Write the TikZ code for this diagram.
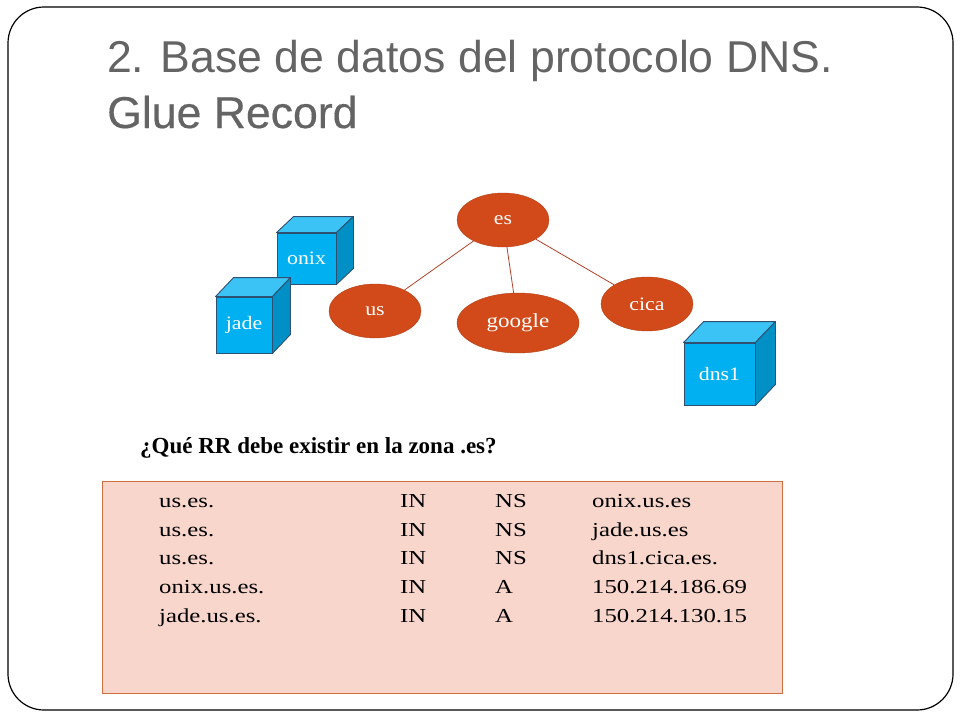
\documentclass[tikz,border=0pt]{standalone}
\usepackage{fontspec}
\setmainfont{Liberation Serif}
\newfontfamily\titlefont{Liberation Sans}
\newfontfamily\titlemed[FakeBold=0.4]{Liberation Sans}
\newfontfamily\widefont[FakeStretch=1.15]{Liberation Serif}
\newfontfamily\tabfont[FakeStretch=1.25]{Liberation Serif}
\usetikzlibrary{shapes.geometric}
\definecolor{titlegray}{HTML}{646464}
\definecolor{esorange}{HTML}{D24A19}
\definecolor{linkred}{HTML}{B0442A}
\definecolor{cubefrontc}{HTML}{00B0F0}
\definecolor{cubetopc}{HTML}{3CC3F5}
\definecolor{cubesidec}{HTML}{0090C6}
\definecolor{cubeedge}{HTML}{2F5070}
\definecolor{tablefill}{HTML}{F8D6CB}
\definecolor{tableedge}{HTML}{D07040}
\newcommand\mycube[3]{%
  \filldraw[fill=cubetopc,draw=cubeedge,line width=0.9pt,line join=round]
    (#1.north west) -- ++(#2,-#3) -- ([shift={(#2,-#3)}]#1.north east) -- (#1.north east) -- cycle;
  \filldraw[fill=cubesidec,draw=cubeedge,line width=0.9pt,line join=round]
    (#1.north east) -- ++(#2,-#3) -- ([shift={(#2,-#3)}]#1.south east) -- (#1.south east) -- cycle;
}
\begin{document}
\begin{tikzpicture}[x=1pt,y=-1pt,
  titletext/.style={anchor=base west,text=titlegray,inner sep=0},
  zone/.style={ellipse,fill=esorange,draw=esorange!85!black,line width=0.4pt,
    minimum width=92,minimum height=54,inner sep=0,text=white,
    font=\widefont\fontsize{19}{22}\selectfont},
  link/.style={draw=linkred,line width=0.8pt},
  cubefront/.style={rectangle,fill=cubefrontc,draw=cubeedge,line width=0.9pt,
    inner sep=0,text=white,font=\widefont\fontsize{19}{22}\selectfont},
  rr/.style={anchor=base west,inner sep=0,font=\tabfont\fontsize{19.8}{22}\selectfont}]
\useasboundingbox (0,0) rectangle (960,720);
\draw[rounded corners=36pt,line width=1.2pt] (8,7) rectangle (953,710);
% title
\node[titletext,font=\titlefont\fontsize{44.6}{56}\selectfont] (t1) at (107,72) {2. Base de datos del protocolo DNS.};
\node[titletext,font=\titlemed\fontsize{44.6}{56}\selectfont] (t2) at (107,128) {Glue Record};
% tree
\node[zone] (es) at (503,220) {es};
\node[zone] (us) at (375,311) {us};
\node[zone,minimum width=122,minimum height=60,font=\widefont\fontsize{20}{22}\selectfont] (google) at (518,323) {google};
\node[zone] (cica) at (647,304) {cica};
\draw[link] (es) -- (us);
\draw[link] (es) -- (google);
\draw[link] (es) -- (cica);
% servers
\node[cubefront,minimum width=59,minimum height=51] (onix) at (306.5,258.5) {onix};
\mycube{onix}{17}{16}
\node[cubefront,minimum width=56,minimum height=56] (jade) at (244,325) {jade};
\mycube{jade}{18}{19}
\node[cubefront,minimum width=71,minimum height=62] (dns1) at (719.5,374) {dns1};
\mycube{dns1}{20}{21}
% question
\node[anchor=base west,inner sep=0,font=\bfseries\fontsize{23}{26}\selectfont] (q) at (140,453) {¿Qué RR debe existir en la zona .es?};
% table
\node[draw=tableedge,fill=tablefill,line width=0.9pt,minimum width=680,minimum height=212,anchor=north west,inner sep=0] (box) at (102,481) {};
\node[rr] (r1a) at (159,507) {us.es.};
\node[rr] (r1b) at (400,507) {IN};
\node[rr] (r1c) at (495,507) {NS};
\node[rr] (r1d) at (592,507) {onix.us.es};
\node[rr] (r2a) at (159,536) {us.es.};
\node[rr] (r2b) at (400,536) {IN};
\node[rr] (r2c) at (495,536) {NS};
\node[rr] (r2d) at (592,536) {jade.us.es};
\node[rr] (r3a) at (159,564) {us.es.};
\node[rr] (r3b) at (400,564) {IN};
\node[rr] (r3c) at (495,564) {NS};
\node[rr] (r3d) at (592,564) {dns1.cica.es.};
\node[rr] (r4a) at (159,593) {onix.us.es.};
\node[rr] (r4b) at (400,593) {IN};
\node[rr] (r4c) at (495,593) {A};
\node[rr] (r4d) at (592,593) {150.214.186.69};
\node[rr] (r5a) at (159,622) {jade.us.es.};
\node[rr] (r5b) at (400,622) {IN};
\node[rr] (r5c) at (495,622) {A};
\node[rr] (r5d) at (592,622) {150.214.130.15};
\end{tikzpicture}
\end{document}
